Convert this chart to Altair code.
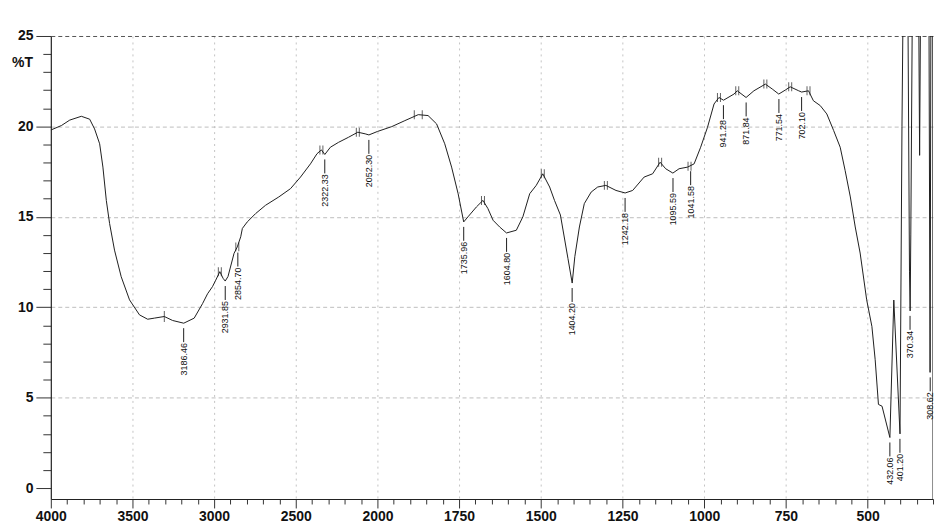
import altair as alt
import pandas as pd

# ---------------- data ----------------
wavenumber = [4000, 3935, 3884, 3813, 3762, 3732, 3701, 3681, 3660, 3640, 3610, 3569, 3518, 3457,
              3407, 3366, 3305, 3254, 3186, 3122, 3071, 3040, 3010, 2990, 2965, 2945, 2932, 2915,
              2878, 2858, 2837, 2827, 2797, 2746, 2685, 2604, 2532, 2471, 2410, 2370, 2343, 2322,
              2288, 2238, 2177, 2120, 2075, 2052, 2000, 1956, 1916, 1875, 1845, 1819, 1794, 1773,
              1753, 1736, 1723, 1697, 1677, 1662, 1646, 1626, 1605, 1575, 1555, 1534, 1514, 1494,
              1473, 1458, 1440, 1417, 1404, 1396, 1382, 1367, 1346, 1326, 1301, 1270, 1242, 1219,
              1184, 1158, 1135, 1118, 1096, 1077, 1051, 1031, 1011, 990, 970, 955, 941, 909, 899,
              872, 848, 813, 792, 772, 752, 737, 711, 702, 681, 666, 645, 625, 604, 584, 569, 553,
              538, 523, 503, 487, 477, 467, 456, 432, 420, 401, 395, 390, 378, 372, 370, 368, 362,
              345, 341, 337, 313, 309, 306, 301, 300]
transmittance = [19.80, 20.05, 20.35, 20.56, 20.40, 19.86, 19.04, 17.75, 15.90, 14.63, 13.16, 11.69,
                 10.41, 9.58, 9.34, 9.40, 9.49, 9.27, 9.12, 9.40, 10.20, 10.75, 11.14, 11.50, 11.97,
                 11.60, 11.45, 11.70, 12.98, 13.34, 13.90, 14.36, 14.72, 15.18, 15.64, 16.10, 16.56,
                 17.20, 17.93, 18.49, 18.70, 18.45, 18.85, 19.12, 19.40, 19.68, 19.59, 19.53, 19.72,
                 19.99, 20.32, 20.65, 20.60, 20.14, 19.04, 17.75, 16.28, 14.72, 15.00, 15.55, 15.91,
                 15.46, 14.81, 14.44, 14.11, 14.26, 15.00, 16.28, 16.74, 17.38, 16.65, 15.90, 15.10,
                 12.70, 11.34, 12.80, 14.44, 15.73, 16.37, 16.65, 16.74, 16.46, 16.32, 16.46, 17.20,
                 17.38, 18.02, 17.66, 17.42, 17.66, 17.75, 17.93, 18.85, 19.95, 21.24, 21.60, 21.45,
                 21.79, 21.97, 21.60, 21.97, 22.34, 22.07, 21.79, 22.01, 22.19, 21.97, 21.90, 21.97,
                 21.42, 21.15, 20.69, 19.77, 18.85, 17.57, 16.10, 14.44, 13.00, 10.41, 8.94, 7.10,
                 4.63, 4.53, 2.80, 10.40, 3.00, 20.0, 30.0, 30.0, 12.0, 9.8, 14.0, 30.0, 30.0, 18.4,
                 30.0, 30.0, 6.4, 30.0, 30.0, -1.0]

peak_labels = ["3186.46", "2931.85", "2854.70", "2322.33", "2052.30", "1735.96", "1604.80",
               "1404.20", "1242.18", "1095.59", "1041.58", "941.28", "871.84", "771.54",
               "702.10", "432.06", "401.20", "370.34", "308.62"]
peak_wn = [3186.46, 2931.85, 2854.70, 2322.33, 2052.30, 1735.96, 1604.80, 1404.20, 1242.18,
           1095.59, 1041.58, 941.28, 871.84, 771.54, 702.10, 432.06, 401.20, 370.34, 308.62]
peak_t = [9.12, 11.45, 13.30, 18.45, 19.53, 14.72, 14.11, 11.34, 16.32, 17.42, 17.80, 21.45,
          21.60, 21.79, 21.90, 2.80, 3.00, 9.80, 6.40]

marker_wn = [2965, 2858, 2343, 2120, 1677, 1494, 1301, 1135, 1045, 955, 899, 813, 737, 681]
marker_t = [11.97, 13.34, 18.70, 19.68, 15.91, 17.38, 16.74, 18.02, 17.80, 21.60, 21.97, 22.34,
            22.19, 21.97]
single_marker_wn = [3305]
single_marker_t = [9.49]
wide_marker_wn = [1875]
wide_marker_t = [20.65]

x_ticks = list(range(4000, 1999, -100)) + list(range(1950, 299, -50))
y_ticks = list(range(0, 26))

spectrum = pd.DataFrame({"wn": wavenumber, "t": transmittance})
peaks = pd.DataFrame({"wn": peak_wn, "t": peak_t, "label": peak_labels})
markers = pd.DataFrame({"wn": marker_wn, "t": marker_t})
singles = pd.DataFrame({"wn": single_marker_wn, "t": single_marker_t})
wides = pd.DataFrame({"wn": wide_marker_wn, "t": wide_marker_t})

FONT = "Liberation Sans"
INK = "#1e1e1e"

x_major = ("((datum.value >= 2000 && datum.value % 500 === 0) || "
           "(datum.value < 2000 && datum.value % 250 === 0))")
y_major = "(datum.value % 5 === 0)"

xscale = alt.Scale(domain=[4000, 2000, 300], range=[0, 328, 886], nice=False, zero=False)
yscale = alt.Scale(domain=[-0.6, 25], nice=False, zero=False)

x_axis = alt.Axis(
    values=x_ticks, tickCount=1000, format="d", title="",
    labelExpr=f"{x_major} ? datum.label : ''",
    labelFont=FONT, labelFontSize=14, labelFontWeight="bold", labelColor="#111",
    labelFlush=False, labelOverlap=False, labelBound=False, labelPadding=2,
    tickSize={"condition": {"test": x_major, "value": 9}, "value": 5},
    tickColor="#333", domainColor="#222", domainWidth=1.2,
    grid=True,
    gridOpacity={"condition": {"test": f"{x_major} && datum.value < 4000", "value": 1}, "value": 0},
    gridColor="#c4c4c4", gridDash=[2, 4], gridWidth=1,
)
y_axis = alt.Axis(
    values=y_ticks, tickCount=1000, format="d",
    labelExpr=f"{y_major} ? datum.label : ''",
    labelFont=FONT, labelFontSize=14, labelFontWeight="bold", labelColor="#111",
    labelPadding=3, labelOverlap=False, labelFlush=False,
    tickSize={"condition": {"test": y_major, "value": 15}, "value": 8},
    tickColor="#333", domainColor="#222", domainWidth=1.2,
    grid=True,
    gridOpacity={"condition": {"test": f"{y_major} && datum.value > 0", "value": 1}, "value": 0},
    gridColor={"condition": {"test": "datum.value === 25", "value": "#555"}, "value": "#bdbdbd"},
    gridDash=[4, 3], gridWidth=1,
    title="%T", titleAngle=0, titleX=-29, titleY=27, titleAlign="center",
    titleBaseline="middle", titleFont=FONT, titleFontSize=14, titleFontWeight="bold",
    titleColor="#111",
)

X = alt.X("wn:Q", scale=xscale, axis=x_axis)
Y = alt.Y("t:Q", scale=yscale, axis=y_axis)

line = alt.Chart(spectrum).mark_line(color=INK, strokeWidth=1, clip=True).encode(
    x=X, y=Y, order="wn:Q"
)

connectors = alt.Chart(peaks).mark_rule(color=INK, strokeWidth=1, yOffset=5, y2Offset=19).encode(
    x=alt.X("wn:Q", scale=xscale), y=alt.Y("t:Q", scale=yscale), y2="t:Q"
)
labels = alt.Chart(peaks).mark_text(
    angle=270, align="right", baseline="middle", fontSize=9, font=FONT, color="#111", yOffset=20
).encode(x=alt.X("wn:Q", scale=xscale), y=alt.Y("t:Q", scale=yscale), text="label:N")

def ticks(df, dx, size=9):
    return alt.Chart(df).mark_tick(orient="vertical", size=size, thickness=1, color=INK,
                                   xOffset=dx).encode(
        x=alt.X("wn:Q", scale=xscale), y=alt.Y("t:Q", scale=yscale))

chart = alt.layer(
    line, connectors, labels,
    ticks(markers, -1.5), ticks(markers, 1.5),
    ticks(singles, 0, 11),
    ticks(wides, -4), ticks(wides, 4),
).properties(
    width=886, height=465,
    autosize=alt.AutoSizeParams(type="none"),
    padding={"left": 43, "top": 27, "right": 5, "bottom": 25},
    background="white",
).configure_view(strokeWidth=0)

chart.save("out.html", embed_options={"renderer": "svg", "actions": False})
